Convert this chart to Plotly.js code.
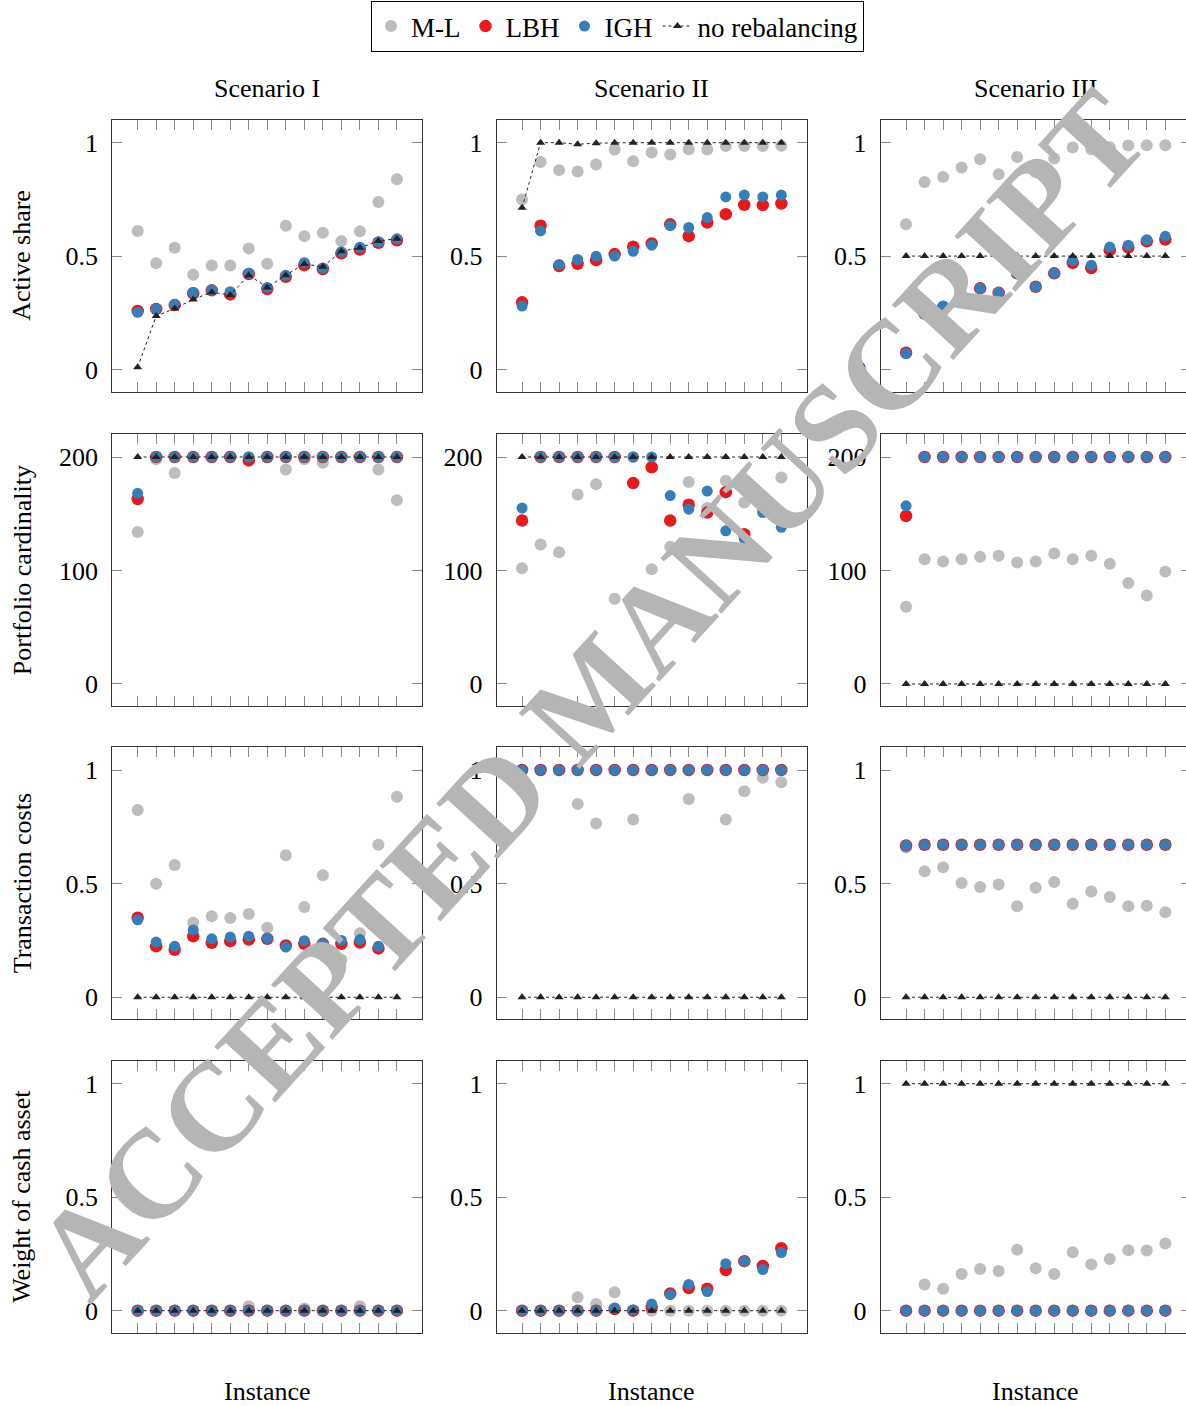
<!DOCTYPE html>
<html>
<head>
<meta charset="utf-8">
<script src="https://cdn.plot.ly/plotly-3.0.1.min.js"></script>
<style>
html,body{margin:0;padding:0;overflow:hidden;background:#fff;}
#chart{width:1200px;height:1406px;}
</style>
</head>
<body>
<div id="chart"></div>
<script>
// ---------------- DATA ----------------
const instances = [1,2,3,4,5,6,7,8,9,10,11,12,13,14,15];
const scenarios = ["Scenario I", "Scenario II", "Scenario III"];
const metrics = ["Active share", "Portfolio cardinality", "Transaction costs", "Weight of cash asset"];
const seriesNames = ["M-L", "LBH", "IGH", "no rebalancing"];

// Active share
const as_S1_ML  = [0.611,0.468,0.537,0.418,0.459,0.459,0.534,0.466,0.634,0.588,0.603,0.566,0.609,0.738,0.839];
const as_S1_LBH = [0.258,0.267,0.284,0.336,0.349,0.331,0.421,0.355,0.409,0.460,0.443,0.512,0.529,0.559,0.570];
const as_S1_IGH = [0.252,0.268,0.287,0.340,0.350,0.343,0.424,0.362,0.415,0.471,0.448,0.519,0.539,0.563,0.576];
const as_S1_NR  = [0.010,0.236,0.269,0.309,0.341,0.328,0.416,0.362,0.416,0.465,0.453,0.521,0.537,0.566,0.577];
const as_S2_ML  = [0.750,0.915,0.879,0.873,0.904,0.970,0.918,0.957,0.948,0.971,0.970,0.985,0.985,0.985,0.986];
const as_S2_LBH = [0.296,0.634,0.456,0.466,0.482,0.509,0.541,0.556,0.640,0.588,0.648,0.685,0.726,0.725,0.732];
const as_S2_IGH = [0.280,0.611,0.463,0.485,0.499,0.500,0.521,0.548,0.634,0.626,0.670,0.761,0.769,0.761,0.769];
const as_S2_NR  = [0.713,1,1,0.993,0.998,1,1,1,1,1,1,1,1,1,1];
const as_S3_ML  = [0.640,0.827,0.849,0.891,0.927,0.861,0.937,0.870,0.930,0.979,0.971,0.980,0.988,0.989,0.989];
const as_S3_LBH = [0.074,0.246,0.275,0.319,0.358,0.338,0.424,0.365,0.424,0.470,0.447,0.526,0.538,0.565,0.573];
const as_S3_IGH = [0.070,0.248,0.280,0.328,0.358,0.339,0.422,0.365,0.424,0.479,0.460,0.540,0.548,0.572,0.587];
const as_S3_NR  = [0.5,0.5,0.5,0.5,0.5,0.5,0.5,0.5,0.5,0.5,0.5,0.5,0.5,0.5,0.5];

// Portfolio cardinality
const pc_S1_ML  = [134,198,186,200,200,200,200,200,189,198,195,200,200,189,162];
const pc_S1_LBH = [163,200,200,200,200,200,197,200,200,200,200,200,200,200,200];
const pc_S1_IGH = [168,200,200,200,200,200,200,200,200,200,200,200,200,200,200];
const pc_S1_NR  = [200,200,200,200,200,200,200,200,200,200,200,200,200,200,200];
const pc_S2_ML  = [102,123,116,167,176,75,200,101,121,178,155,179,160,153,182];
const pc_S2_LBH = [144,200,200,200,200,200,177,191,144,158,151,169,132,164,144];
const pc_S2_IGH = [155,200,200,200,200,200,200,200,166,154,170,135,128,151,138];
const pc_S2_NR  = [200,200,200,200,200,200,200,200,200,200,200,200,200,200,200];
const pc_S3_ML  = [68,110,108,110,112,113,107,108,115,110,113,106,89,78,99];
const pc_S3_LBH = [148,200,200,200,200,200,200,200,200,200,200,200,200,200,200];
const pc_S3_IGH = [157,200,200,200,200,200,200,200,200,200,200,200,200,200,200];
const pc_S3_NR  = [0,0,0,0,0,0,0,0,0,0,0,0,0,0,0];

// Transaction costs
const tc_S1_ML  = [0.824,0.500,0.582,0.328,0.356,0.349,0.366,0.306,0.625,0.397,0.537,0.165,0.282,0.671,0.882];
const tc_S1_LBH = [0.350,0.224,0.209,0.268,0.240,0.247,0.254,0.257,0.228,0.235,0.235,0.235,0.241,0.215,0.254];
const tc_S1_IGH = [0.341,0.243,0.224,0.296,0.257,0.265,0.269,0.260,0.221,0.249,0.237,0.250,0.254,0.225,0.243];
const tc_S1_NR  = [0,0,0,0,0,0,0,0,0,0,0,0,0,0,0];
const tc_S2_ML  = [1,1,1,0.851,0.765,1,0.782,1,1,0.872,1,0.782,0.907,0.966,0.946];
const tc_S2_LBH = [1,1,1,1,1,1,1,1,1,1,1,1,1,1,1];
const tc_S2_IGH = [1,1,1,1,1,1,1,1,1,1,1,1,1,1,1];
const tc_S2_NR  = [0,0,0,0,0,0,0,0,0,0,0,0,0,0,0];
const tc_S3_ML  = [0.659,0.554,0.572,0.503,0.485,0.496,0.401,0.482,0.507,0.412,0.465,0.441,0.401,0.403,0.374];
const tc_S3_LBH = [0.668,0.671,0.671,0.671,0.671,0.671,0.671,0.671,0.671,0.671,0.671,0.671,0.671,0.671,0.671];
const tc_S3_IGH = [0.668,0.671,0.671,0.671,0.671,0.671,0.671,0.671,0.671,0.671,0.671,0.671,0.671,0.671,0.671];
const tc_S3_NR  = [0,0,0,0,0,0,0,0,0,0,0,0,0,0,0];

// Weight of cash asset
const wc_S1_ML  = [0,0,0,0,0,0,0.02,0,0,0.01,0,0,0.02,0,0];
const wc_S1_LBH = [0,0,0,0,0,0,0,0,0,0,0,0,0,0,0];
const wc_S1_IGH = [0,0,0,0,0,0,0,0,0,0,0,0,0,0,0];
const wc_S1_NR  = [0,0,0,0,0,0,0,0,0,0,0,0,0,0,0];
const wc_S2_ML  = [0,0,0,0.059,0.029,0.081,0,0,0,0,0,0,0,0,0];
const wc_S2_LBH = [0,0,0,0,0,0.007,0,0.016,0.076,0.100,0.097,0.179,0.218,0.197,0.275];
const wc_S2_IGH = [0,0,0,0,0,0.012,0.003,0.029,0.071,0.115,0.084,0.207,0.218,0.181,0.256];
const wc_S2_NR  = [0,0,0,0,0,0,0,0,0,0,0,0,0,0,0];
const wc_S3_ML  = [0,0.115,0.097,0.162,0.184,0.175,0.268,0.187,0.162,0.257,0.204,0.228,0.266,0.265,0.296];
const wc_S3_LBH = [0,0,0,0,0,0,0,0,0,0,0,0,0,0,0];
const wc_S3_IGH = [0,0,0,0,0,0,0,0,0,0,0,0,0,0,0];
const wc_S3_NR  = [1,1,1,1,1,1,1,1,1,1,1,1,1,1,1];

const yTickVals = [[0,0.5,1],[0,100,200],[0,0.5,1],[0,0.5,1]];
const yTickText = [["0","0.5","1"],["0","100","200"],["0","0.5","1"],["0","0.5","1"]];

// ---------------- BUILD ----------------
const grid = [
  [[as_S1_ML,as_S1_LBH,as_S1_IGH,as_S1_NR],[as_S2_ML,as_S2_LBH,as_S2_IGH,as_S2_NR],[as_S3_ML,as_S3_LBH,as_S3_IGH,as_S3_NR]],
  [[pc_S1_ML,pc_S1_LBH,pc_S1_IGH,pc_S1_NR],[pc_S2_ML,pc_S2_LBH,pc_S2_IGH,pc_S2_NR],[pc_S3_ML,pc_S3_LBH,pc_S3_IGH,pc_S3_NR]],
  [[tc_S1_ML,tc_S1_LBH,tc_S1_IGH,tc_S1_NR],[tc_S2_ML,tc_S2_LBH,tc_S2_IGH,tc_S2_NR],[tc_S3_ML,tc_S3_LBH,tc_S3_IGH,tc_S3_NR]],
  [[wc_S1_ML,wc_S1_LBH,wc_S1_IGH,wc_S1_NR],[wc_S2_ML,wc_S2_LBH,wc_S2_IGH,wc_S2_NR],[wc_S3_ML,wc_S3_LBH,wc_S3_IGH,wc_S3_NR]]
];

const W = 1200, H = 1406;
const colsPx = [[112.3,422.3],[496.7,806.7],[880.7,1190.7]];
const rowsPx = [[120,391.5],[434.3,706],[747.3,1019.3],[1061,1332.7]];
const yRanges = [[-0.097,1.1],[-19.4,220],[-0.097,1.1],[-0.097,1.1]];
const FONT = "Liberation Serif, Times New Roman, serif";

const styles = [
  {mode:'markers', marker:{color:'#bdbdbd', size:12, symbol:'circle', line:{width:0}}},
  {mode:'markers', marker:{color:'#e41a1c', size:12.5, symbol:'circle', line:{width:0}}},
  {mode:'markers', marker:{color:'#377eb8', size:11, symbol:'circle', line:{width:0}}},
  {mode:'lines+markers', line:{color:'#222', width:1, dash:'dot'}, marker:{color:'#222', size:8, symbol:'triangle-up', line:{width:0}}}
];

const traces = [];
const layout = {
  width: W, height: H,
  margin: {l:0, r:0, t:0, b:0},
  paper_bgcolor: '#fff', plot_bgcolor: '#fff',
  font: {family: FONT, size: 26, color: '#000'},
  showlegend: true,
  legend: {
    orientation: 'h',
    x: 371/W, xanchor: 'left',
    y: 1 - 1/H, yanchor: 'top',
    bordercolor: '#000', borderwidth: 1,
    bgcolor: '#fff',
    font: {family: FONT, size: 27, color: '#000'},
    itemwidth: 30,
    tracegroupgap: 0
  },
  annotations: []
};

for (let r = 0; r < 4; r++) {
  for (let c = 0; c < 3; c++) {
    const p = r*3 + c + 1;
    const xa = 'xaxis' + (p === 1 ? '' : p);
    const ya = 'yaxis' + (p === 1 ? '' : p);
    const xid = 'x' + (p === 1 ? '' : p);
    const yid = 'y' + (p === 1 ? '' : p);
    layout[xa] = {
      domain: [colsPx[c][0]/W, colsPx[c][1]/W],
      range: [-0.37, 16.37],
      anchor: yid,
      tickvals: instances,
      showticklabels: false,
      ticks: 'inside', ticklen: 10, tickwidth: 1, tickcolor: '#8a8a8a',
      showline: true, linecolor: '#333', linewidth: 1, mirror: 'ticks',
      showgrid: false, zeroline: false, fixedrange: true
    };
    layout[ya] = {
      domain: [1 - rowsPx[r][1]/H, 1 - rowsPx[r][0]/H],
      range: yRanges[r],
      anchor: xid,
      tickvals: yTickVals[r], ticktext: yTickText[r],
      tickfont: {family: FONT, size: 26, color: '#000'},
      ticks: 'inside', ticklen: 10, tickwidth: 1, tickcolor: '#8a8a8a',
      ticklabelstandoff: 8,
      showline: true, linecolor: '#333', linewidth: 1, mirror: 'ticks',
      showgrid: false, zeroline: false, fixedrange: true
    };
    for (let s = 0; s < 4; s++) {
      const st = styles[s];
      const t = {
        type: 'scatter',
        x: instances, y: grid[r][c][s],
        xaxis: xid, yaxis: yid,
        name: seriesNames[s],
        legendgroup: seriesNames[s],
        showlegend: (p === 1),
        mode: st.mode,
        marker: st.marker,
        cliponaxis: false,
        hoverinfo: 'skip'
      };
      if (st.line) t.line = st.line;
      traces.push(t);
    }
  }
}

// Column titles
scenarios.forEach((s, c) => {
  const cx = (colsPx[c][0] + colsPx[c][1]) / 2 / W;
  layout.annotations.push({text: s, xref:'paper', yref:'paper', x: cx, y: 1 - 88/H,
    xanchor:'center', yanchor:'middle', showarrow:false, font:{family:FONT, size:26, color:'#000'}});
  layout.annotations.push({text: 'Instance', xref:'paper', yref:'paper', x: cx, y: 1 - 1391/H,
    xanchor:'center', yanchor:'middle', showarrow:false, font:{family:FONT, size:26, color:'#000'}});
});
// Row titles
metrics.forEach((m, r) => {
  const cy = (rowsPx[r][0] + rowsPx[r][1]) / 2;
  layout.annotations.push({text: m, xref:'paper', yref:'paper', x: 22/W, y: 1 - cy/H,
    xanchor:'center', yanchor:'middle', textangle: -90, showarrow:false, font:{family:FONT, size:26, color:'#000'}});
});
// Watermark
layout.annotations.push({text: 'ACCEPTED MANUSCRIPT', xref:'paper', yref:'paper', x: 590/W, y: 1 - 694/H,
  xanchor:'center', yanchor:'middle', textangle: -47.6, showarrow:false,
  font:{family:FONT, size:126, weight:'bold', color:'#b5b5b5'}});

Plotly.newPlot('chart', traces, layout, {displayModeBar:false, staticPlot:true});
</script>
</body>
</html>
